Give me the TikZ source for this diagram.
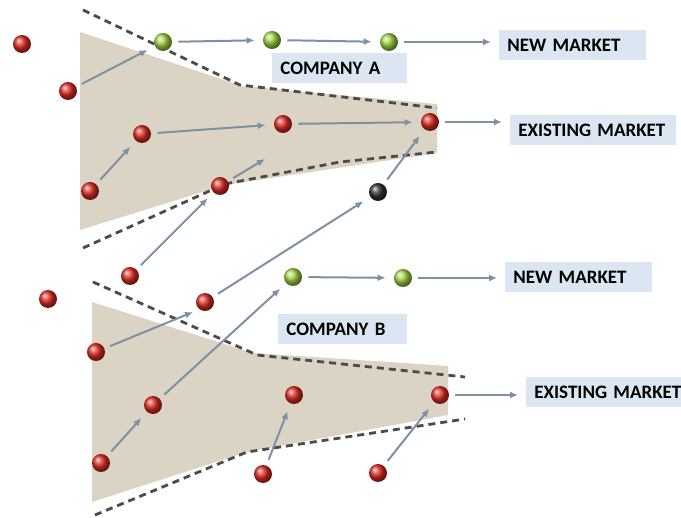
\documentclass[tikz,border=0pt]{standalone}
\usepackage{fontspec}
\setmainfont{Carlito}
\usepackage{tikz}
\usetikzlibrary{arrows.meta}
\definecolor{funnel}{RGB}{219,212,196}
\definecolor{edgecol}{RGB}{75,75,75}
\definecolor{flowcol}{RGB}{125,145,165}
\definecolor{tagcol}{RGB}{220,230,242}
\definecolor{leaf}{RGB}{165,215,70}
\definecolor{berry}{RGB}{225,45,35}
\tikzstyle{ball}=[circle, inner sep=0pt, minimum size=9pt]
\tikzstyle{redball}=[ball, ball color=berry]
\tikzstyle{greenball}=[ball, ball color=leaf]
\tikzstyle{blackball}=[ball, ball color=black!80]
\tikzstyle{flow}=[-{Latex[length=4pt,width=3.5pt]}, line width=1pt, flowcol, shorten <=3pt, shorten >=4pt]
\tikzstyle{border}=[edgecol, line width=1.4pt, dash pattern=on 3.5pt off 2.5pt]
\tikzstyle{tag}=[fill=tagcol, anchor=west, inner xsep=4pt, inner ysep=0pt, minimum height=15pt, align=left, font=\bfseries\fontsize{9.5}{11}\selectfont]

\begin{document}
\begin{tikzpicture}[x=0.5pt,y=-0.5pt]
\useasboundingbox (0,0) rectangle (681,518);
% funnels
\fill[funnel] (80,32) -- (242,86) -- (437,104) -- (437,153) -- (225,185) -- (80,230) -- cycle;
\fill[funnel] (92,302) -- (253,353) -- (448,366) -- (448,415) -- (247,452) -- (92,502) -- cycle;
\draw[border] (83,10) -- (240,85) -- (437,108);
\draw[border] (83,248) -- (225,184) -- (340,162) -- (437,152);
\draw[border] (93,282) -- (257,355) -- (465,377);
\draw[border] (95,515) -- (247,452) -- (340,438) -- (465,419);
% markets
\node[tag, text width=65.5pt] (newA) at (499,45) {NEW MARKET};
\node[tag, text width=59.5pt] (compA) at (272,68) {COMPANY A};
\node[tag, text width=75pt] (existA) at (510,130) {EXISTING MARKET};
\node[tag, text width=65.5pt] (newB) at (505,277.5) {NEW MARKET};
\node[tag, text width=56.5pt] (compB) at (278,329) {COMPANY B};
\node[tag, text width=77pt] (existB) at (526,392) {EXISTING MARKET};
% firms
\foreach \n/\x/\y in {rA0/22/44, rA1/68/91, rA2/142/134, rA3/283/124, rA4/430/122, rA5/90/191, rA6/220/186, rA7/130/276, rA8/205/302,
	rB0/48/299, rB1/96/352, rB2/153/405, rB3/101/463, rB4/294/395, rB5/263/474, rB6/440/395, rB7/378/473} {
	\node[redball] (\n) at (\x,\y) {};
}
\foreach \n/\x/\y in {gA1/163/42, gA2/272/40, gA3/389/42, gB1/293/277, gB2/403/278} {
	\node[greenball] (\n) at (\x,\y) {};
}
\node[blackball] (kA) at (378,192) {};
\coordinate (fA) at (265,159);
\coordinate (fB) at (193,312);
% moves
\foreach \s/\t in {gA1/gA2, gA2/gA3, rA1/gA1, rA2/rA3, rA3/rA4, rA5/rA2, rA7/rA6, rA8/kA, kA/rA4, gB1/gB2, rB3/rB2, rB2/gB1, rB5/rB4, rB7/rB6} {
	\draw[flow] (\s) -- (\t);
}
\draw[flow, shorten >=0pt] (rA6) -- (fA);
\draw[flow, shorten >=0pt] (rB1) -- (fB);
\foreach \s/\t in {gA3/newA, rA4/existA, gB2/newB, rB6/existB} {
	\draw[flow] (\s) -- (\s -| \t.west);
}
\end{tikzpicture}
\end{document}
